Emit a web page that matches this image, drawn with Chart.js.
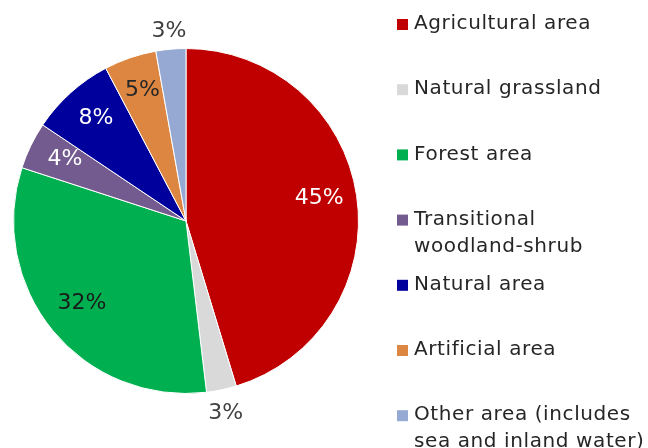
<!DOCTYPE html>
<html>
<head>
<meta charset="utf-8">
<script src="https://cdn.jsdelivr.net/npm/chart.js@4/dist/chart.umd.min.js"></script>
<style>
  html, body { margin: 0; padding: 0; background: #fff; }
  #wrap { width: 648px; height: 448px; position: relative; }
</style>
</head>
<body>
<div id="wrap"><canvas id="landChart" width="648" height="448"></canvas></div>
<script>
// Land cover shares (percent)
const categories = [
  'Agricultural area',
  'Natural grassland',
  'Forest area',
  ['Transitional', 'woodland-shrub'],
  'Natural area',
  'Artificial area',
  ['Other area (includes', 'sea and inland water)']
];
const shares = [45.3, 2.8, 31.9, 4.4, 7.9, 4.9, 2.8];
const sliceColors = ['#C00000', '#D9D9D9', '#00B050', '#735B8F', '#00009C', '#DD8641', '#95A9D2'];
const labelColors = ['#ffffff', '#404040', '#1a1a1a', '#ffffff', '#ffffff', '#262626', '#404040'];
// label placed outside the pie for the thin slices
const labelOutside = [false, true, false, false, false, false, true];

const FONT = '"DejaVu Sans", Verdana, sans-serif';

// percentage labels on / around the slices
const sliceLabels = {
  id: 'sliceLabels',
  afterDatasetsDraw(chart) {
    const ctx = chart.ctx;
    const meta = chart.getDatasetMeta(0);
    ctx.save();
    ctx.font = '22px ' + FONT;
    ctx.textAlign = 'center';
    ctx.textBaseline = 'middle';
    meta.data.forEach((arc, i) => {
      const p = arc.getProps(['x', 'y', 'startAngle', 'endAngle', 'outerRadius'], true);
      const mid = (p.startAngle + p.endAngle) / 2;
      const out = labelOutside[i];
      const r = p.outerRadius * (out ? 1.12 : 0.78);
      ctx.fillStyle = labelColors[i];
      ctx.fillText(Math.round(shares[i]) + '%',
        p.x + Math.cos(mid) * r,
        p.y + Math.sin(mid) * r + (out ? 3 : -3));
    });
    ctx.restore();
  }
};

// legend on the right, one slot per category
const sideLegend = {
  id: 'sideLegend',
  afterDraw(chart) {
    const ctx = chart.ctx;
    ctx.save();
    ctx.font = '20px ' + FONT;
    ctx.letterSpacing = '0.6px';
    ctx.textBaseline = 'middle';
    ctx.textAlign = 'left';
    const x0 = 397, top = 24, step = 65.2, lineH = 27;
    chart.data.labels.forEach((lab, i) => {
      const y = top + i * step;
      ctx.fillStyle = sliceColors[i];
      ctx.fillRect(x0, y - 5, 11, 11);
      ctx.fillStyle = '#262626';
      const lines = Array.isArray(lab) ? lab : [lab];
      lines.forEach((t, j) => ctx.fillText(t, x0 + 17, y + j * lineH));
    });
    ctx.restore();
  }
};

new Chart(document.getElementById('landChart'), {
  type: 'pie',
  data: {
    labels: categories,
    datasets: [{
      data: shares,
      backgroundColor: sliceColors,
      borderColor: '#ffffff',
      borderWidth: 1
    }]
  },
  options: {
    responsive: false,
    animation: false,
    layout: { padding: { left: 13, right: 289, top: 48, bottom: 54 } },
    plugins: {
      legend: { display: false },
      tooltip: { enabled: false }
    }
  },
  plugins: [sliceLabels, sideLegend]
});
</script>
</body>
</html>
